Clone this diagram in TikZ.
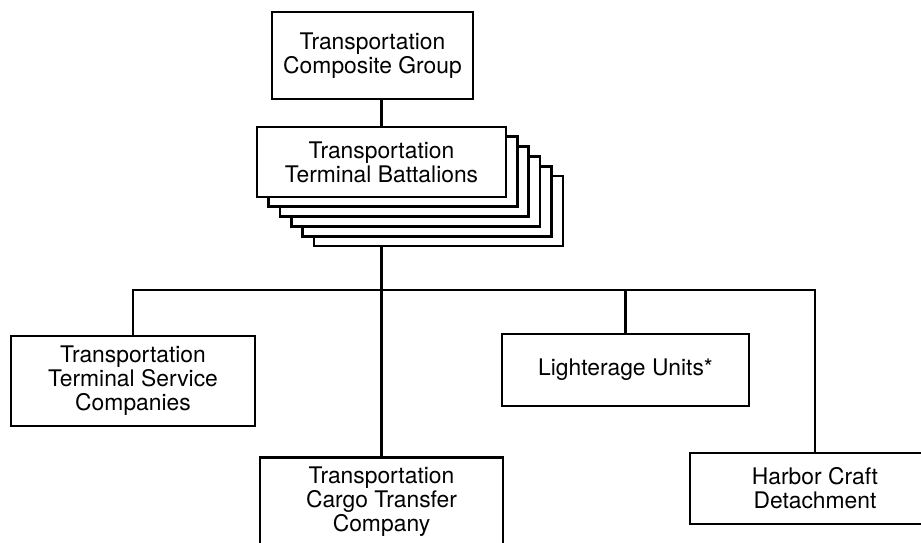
\documentclass[tikz,border=0pt]{standalone}
\usepackage{fontspec}
\setmainfont{TeX Gyre Heros}
\usetikzlibrary{positioning}

\tikzset{
  unit/.style={draw,line width=1.5pt,fill=white,align=center,
    font=\fontsize{13}{13.6}\selectfont,inner sep=0pt},
  link/.style={line width=1.5pt}
}

\begin{document}
\begin{tikzpicture}[x=0.02cm,y=-0.02cm]
\useasboundingbox (0,0) rectangle (921,542);
\clip (0,0) rectangle (921,542);

\node[unit,minimum width=4.02cm,minimum height=1.74cm] (group) at (372.5,55.5) {Transportation\\Composite Group};

% stacked battalions, back to front
\foreach \i in {5,4,...,1}
  \node[unit,minimum width=4.98cm,minimum height=1.40cm] (stack\i) at ({381.5+11.4*\i},{162+9.8*\i}) {};
\node[unit,minimum width=4.98cm,minimum height=1.40cm] (bat) at (381.5,162) {Transportation\\Terminal Battalions};

\node[unit,minimum width=4.88cm,minimum height=1.80cm] (ttsc) at (133,381) {Transportation\\Terminal Service\\Companies};
\node[unit,minimum width=4.94cm,minimum height=1.44cm] (lighter) at (625.5,370) {Lighterage Units*};
\node[unit,minimum width=4.86cm,minimum height=2cm,anchor=north] (cargo) at (381.5,456) {};
\node[align=center,font=\fontsize{13}{13.6}\selectfont,inner sep=0pt] (cargotext) at (381.5,502) {Transportation\\Cargo Transfer\\Company};
\node[unit,minimum width=5.0cm,minimum height=1.42cm] (harbor) at (815,488.5) {Harbor Craft\\Detachment};

\coordinate (bus) at (0,290);

\draw[link] (group.south -| bat.north) -- (bat.north);
\draw[link] (stack5.south -| bat.north) -- (cargo.north);
\draw[link] (ttsc.north) -- (ttsc.north |- bus) -- (harbor.north |- bus) -- (harbor.north);
\draw[link] (lighter.north) -- (lighter.north |- bus);
\end{tikzpicture}
\end{document}
